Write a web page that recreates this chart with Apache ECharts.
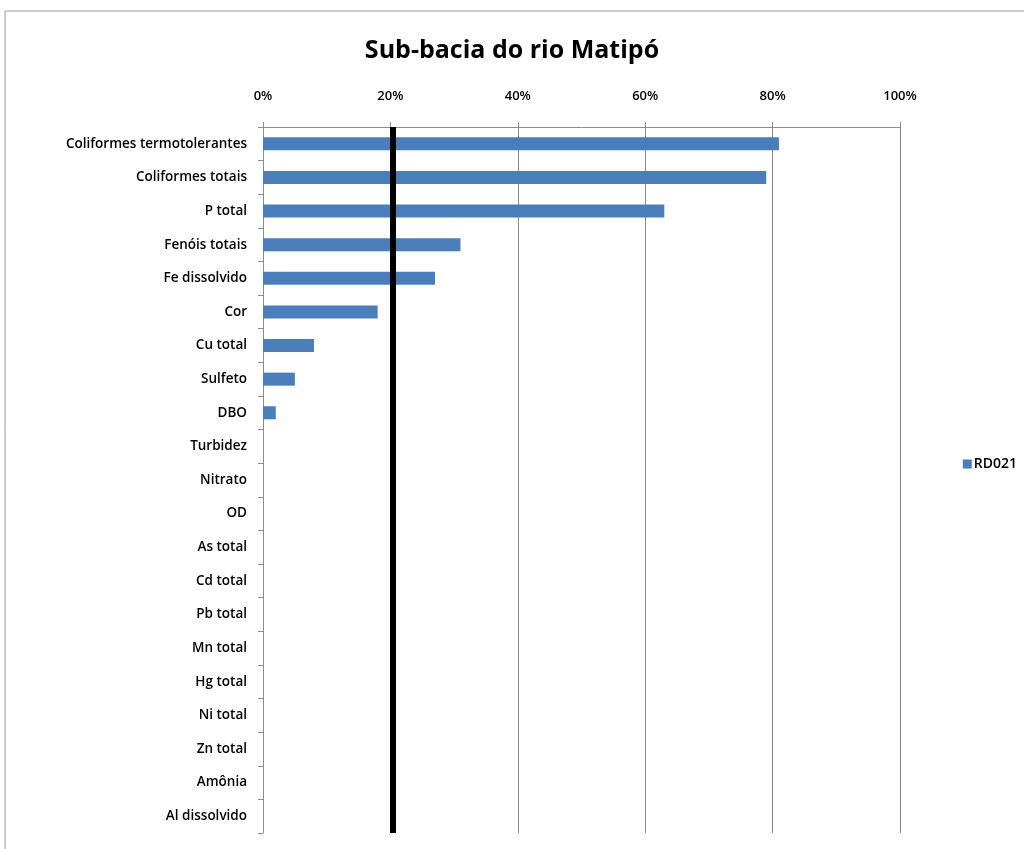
<!DOCTYPE html>
<html>
<head>
<meta charset="utf-8">
<script src="https://cdn.jsdelivr.net/npm/echarts@6/dist/echarts.min.js"></script>
<style>html,body{margin:0;padding:0;background:#fff}#c{width:1024px;height:849px}</style>
</head>
<body>
<div id="c"></div>
<script>
const categories = ["Coliformes termotolerantes","Coliformes totais","P total","Fenóis totais","Fe dissolvido","Cor","Cu total","Sulfeto","DBO","Turbidez","Nitrato","OD","As total","Cd total","Pb total","Mn total","Hg total","Ni total","Zn total","Amônia","Al dissolvido"];
const rd021 = [81,79,63,31,27,18,8,5,2,0,0,0,0,0,0,0,0,0,0,0,0];
const threshold = 20.4;
const xTicks = [0,20,40,60,80,100];
const seriesName = "RD021";
const FONT = "'Open Sans', 'Noto Sans', sans-serif";

const chart = echarts.init(document.getElementById('c'));
chart.setOption({
  animation:false,
  backgroundColor:'#fff',
  title:{text:'Sub-bacia do rio Matipó',left:'center',top:33,
    textStyle:{fontFamily:FONT,fontSize:25,fontWeight:'bold',color:'#000'}},
  graphic:[{type:'rect',shape:{x:5,y:11,width:1030,height:850},style:{fill:'none',stroke:'#9a9a9a',lineWidth:1},silent:true}],
  legend:{orient:'vertical',right:2,top:452,itemWidth:9,itemHeight:9,itemGap:6,
    textStyle:{fontFamily:FONT,fontSize:14,fontWeight:600,color:'#000',padding:[0,0,0,-3]},
    data:[{name:seriesName,icon:'rect'}]},
  grid:{left:263,right:124,top:127,bottom:16,containLabel:false},
  xAxis:{type:'value',position:'top',min:0,max:100,interval:20,
    axisLine:{show:true,lineStyle:{color:'#8c8c8c'}},
    axisTick:{show:true,length:5,lineStyle:{color:'#8c8c8c'}},
    splitLine:{show:true,lineStyle:{color:'#8c8c8c',width:1}},
    axisLabel:{formatter:v=>xTicks.includes(v)?v+'%':'',margin:24,fontFamily:FONT,fontSize:13,fontWeight:600,color:'#000'}},
  yAxis:{type:'category',data:categories,inverse:true,
    axisLine:{show:true,lineStyle:{color:'#8c8c8c'}},
    axisTick:{show:true,length:5,alignWithLabel:false,lineStyle:{color:'#8c8c8c'}},
    axisLabel:{margin:16,fontFamily:FONT,fontSize:13.5,fontWeight:600,color:'#000'}},
  series:[{name:seriesName,type:'bar',data:rd021,barWidth:13,
    itemStyle:{color:'#4a7ebb'},
    markLine:{silent:true,symbol:'none',label:{show:false},
      lineStyle:{color:'#000',width:6,type:'solid'},
      data:[{xAxis:threshold}]}}]
});
</script>
</body>
</html>
